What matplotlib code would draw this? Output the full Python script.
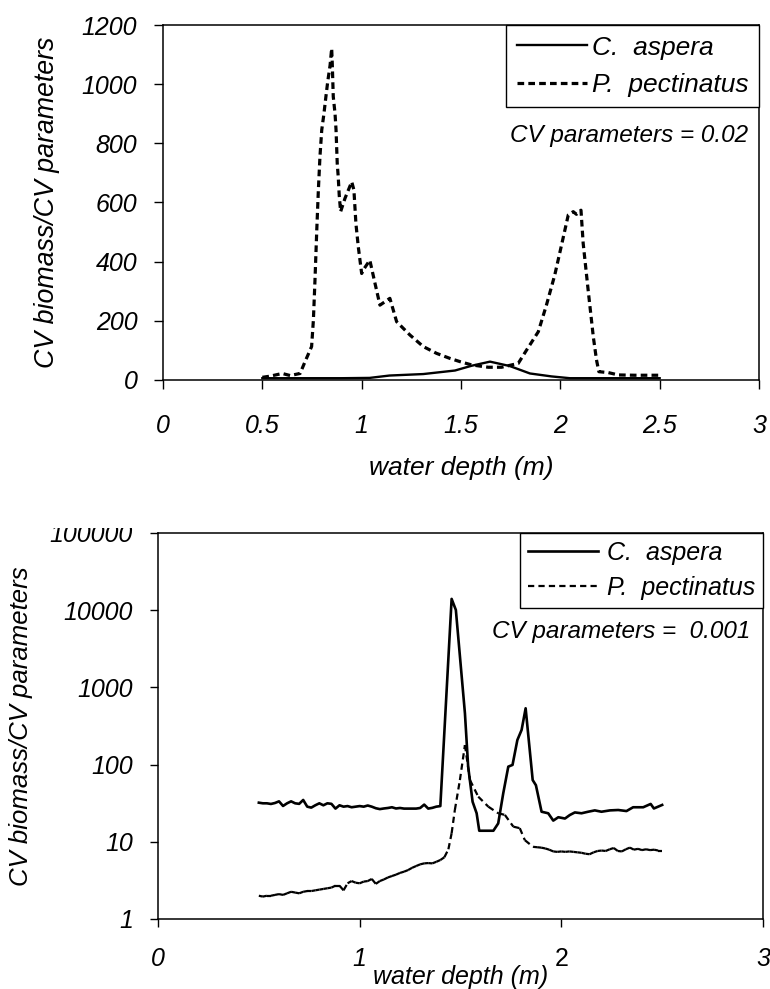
import numpy as np
import matplotlib
matplotlib.use('Agg')
import matplotlib.pyplot as plt
from matplotlib.collections import LineCollection
from matplotlib.transforms import Bbox

# top panel: CV parameters = 0.02 (linear y)
top_x_pect = [0.50, 0.54, 0.60, 0.64, 0.69, 0.715, 0.748, 0.757, 0.765, 0.774, 0.782, 0.790,
              0.799, 0.810, 0.820, 0.829, 0.841, 0.849, 0.852, 0.857, 0.866, 0.871, 0.877,
              0.882, 0.887, 0.894, 0.916, 0.950, 0.961, 0.971, 0.983, 1.000, 1.008, 1.041,
              1.067, 1.092, 1.142, 1.176, 1.243, 1.310, 1.377, 1.444, 1.495, 1.553, 1.637,
              1.704, 1.788, 1.830, 1.889, 1.930, 1.972, 2.006, 2.040, 2.065, 2.081, 2.104,
              2.115, 2.140, 2.166, 2.182, 2.194, 2.241, 2.292, 2.375, 2.50]
top_y_pect = [9, 13, 22, 15, 22, 62, 113, 203, 338, 507, 642, 755,
              845, 900, 958, 1008, 1064, 1121, 1070, 958, 900, 845, 732,
              687, 625, 569, 614, 670, 642, 529, 450, 360, 372, 405,
              327, 253, 276, 197, 152, 113, 90, 73, 62, 51, 43,
              43, 56, 101, 163, 253, 355, 456, 558, 569, 560, 574,
              462, 304, 146, 68, 28, 25, 17, 16, 16]

top_x_asp = [0.50, 0.70, 0.90, 1.04, 1.14, 1.31, 1.47, 1.553, 1.646, 1.746, 1.847, 1.956, 2.048, 2.50]
top_y_asp = [6, 6, 6, 7, 15, 20, 32, 48, 62, 47, 22, 12, 6, 6]

# bottom panel: CV parameters = 0.001 (log y)
bot_x_asp = [0.50, 0.52, 0.54, 0.56, 0.58, 0.60, 0.62, 0.64, 0.66, 0.68, 0.70, 0.72, 0.74,
             0.76, 0.78, 0.80, 0.82, 0.84, 0.86, 0.88, 0.90, 0.92, 0.94, 0.96, 0.98, 1.00,
             1.02, 1.04, 1.06, 1.08, 1.10, 1.12, 1.14, 1.16, 1.18, 1.20, 1.22, 1.24, 1.26,
             1.28, 1.30, 1.32, 1.34, 1.36, 1.38, 1.40, 1.456, 1.477, 1.522, 1.538, 1.560,
             1.580, 1.593, 1.663, 1.687, 1.712, 1.737, 1.758, 1.782, 1.803, 1.823, 1.858,
             1.874, 1.902, 1.935, 1.960, 1.985, 2.018, 2.042, 2.067, 2.100, 2.133, 2.166,
             2.199, 2.241, 2.282, 2.323, 2.356, 2.406, 2.443, 2.459, 2.50]
bot_y_asp = [32.1, 31.5, 31.5, 30.9, 31.8, 33.4, 29.1, 31.5, 33.4, 31.5, 31.0, 34.8, 28.5,
             27.7, 29.7, 31.5, 29.7, 31.5, 31.0, 26.9, 29.7, 28.5, 29.0, 28.0, 28.5, 29.0,
             28.5, 29.5, 28.5, 27.2, 26.5, 27.0, 27.4, 28.0, 27.0, 27.4, 26.9, 26.9, 26.9,
             26.9, 27.4, 30.3, 26.9, 27.5, 28.5, 29.0, 14000, 10060, 461, 94, 33,
             23.4, 13.9, 13.9, 17.3, 42.5, 94, 99, 208, 281, 536, 63,
             54, 24.5, 23.4, 18.8, 20.8, 20.0, 22.2, 24.0, 23.4, 24.5, 25.5,
             24.5, 25.5, 25.8, 25.0, 28.0, 28.0, 30.9, 27.0, 30.0]

bot_x_pect = [0.50, 0.52, 0.54, 0.56, 0.58, 0.60, 0.62, 0.64, 0.66, 0.68, 0.70, 0.72, 0.74,
              0.76, 0.78, 0.80, 0.82, 0.84, 0.86, 0.88, 0.90, 0.92, 0.94, 0.96, 0.98, 1.00,
              1.02, 1.04, 1.06, 1.08, 1.10, 1.12, 1.14, 1.16, 1.18, 1.20, 1.22, 1.24, 1.26,
              1.28, 1.30, 1.32, 1.34, 1.36, 1.38, 1.40, 1.42, 1.44, 1.456, 1.472, 1.497,
              1.522, 1.547, 1.588, 1.638, 1.687, 1.720, 1.762, 1.794, 1.819, 1.860, 1.88,
              1.90, 1.92, 1.94, 1.96, 1.98, 2.00, 2.02, 2.04, 2.06, 2.08, 2.10, 2.12, 2.14,
              2.16, 2.18, 2.20, 2.22, 2.24, 2.26, 2.28, 2.30, 2.32, 2.34, 2.36, 2.38, 2.40,
              2.42, 2.44, 2.46, 2.48, 2.50]
bot_y_pect = [2.0, 1.95, 2.0, 2.0, 2.05, 2.1, 2.05, 2.15, 2.25, 2.2, 2.15, 2.25, 2.3,
              2.3, 2.35, 2.4, 2.45, 2.5, 2.55, 2.7, 2.7, 2.35, 2.9, 3.1, 2.95, 2.9,
              3.05, 3.1, 3.3, 2.85, 3.1, 3.25, 3.45, 3.6, 3.75, 3.95, 4.1, 4.3, 4.6,
              4.85, 5.1, 5.25, 5.3, 5.25, 5.5, 5.8, 6.3, 8.0, 12.9, 25.8, 63,
              179, 63, 38.4, 28.5, 23.4, 22.3, 15.7, 15.0, 10.5, 8.6, 8.5,
              8.4, 8.2, 7.9, 7.5, 7.4, 7.5, 7.4, 7.5, 7.4, 7.3, 7.2, 7.0, 6.9,
              7.3, 7.6, 7.7, 7.6, 8.0, 8.3, 7.6, 7.5, 8.0, 8.4, 7.9, 8.1, 7.8,
              8.0, 7.8, 7.9, 7.7, 7.7]

top_xticks = [0, 0.5, 1, 1.5, 2, 2.5, 3]
top_xlabels = ['0', '0.5', '1', '1.5', '2', '2.5', '3']
top_yticks = [0, 200, 400, 600, 800, 1000, 1200]
bot_xticks = [0, 1, 2, 3]
bot_yticks = [1, 10, 100, 1000, 10000, 100000]

plt.rcParams['font.family'] = 'Liberation Sans'
plt.rcParams['font.style'] = 'italic'
plt.rcParams['lines.scale_dashes'] = False

fig = plt.figure(figsize=(7.7, 9.89), dpi=100)

# ---- top chart ----
ax1 = fig.add_axes([0.2117, 0.6158, 0.7740, 0.3589])
ax1.plot(top_x_asp, top_y_asp, color='black', lw=1.7, label='C.  aspera')
ax1.plot(top_x_pect, top_y_pect, color='black', lw=2.3, dashes=(4.8, 3.0),
         label='P.  pectinatus')
ax1.set_xlim(0, 3)
ax1.set_ylim(0, 1200)
ax1.set_xticks(top_xticks)
ax1.set_xticklabels(top_xlabels)
ax1.set_yticks(top_yticks)
ax1.tick_params(axis='both', direction='out', length=6.5, width=1.0, labelsize=18)
ax1.tick_params(axis='y', pad=12)
ax1.tick_params(axis='x', pad=18)
for s in ax1.spines.values():
    s.set_linewidth(1.1)
ax1.set_xlabel('water depth (m)', fontsize=19, labelpad=13)
ax1.set_ylabel('CV biomass/CV parameters', fontsize=19.3)
ax1.yaxis.set_label_coords(-0.173, 0.5)
leg1 = ax1.legend(loc='upper right', bbox_to_anchor=(1, 1), borderaxespad=0,
                  fancybox=False, edgecolor='black', framealpha=1, fontsize=19,
                  handlelength=2.65, handletextpad=0.19, borderpad=0.4, labelspacing=0.5)
leg1.get_frame().set_linewidth(1.0)
ax1.text(0.9815, 0.69, 'CV parameters = 0.02', transform=ax1.transAxes,
         ha='right', va='center', fontsize=17.5)

# ---- bottom chart ----
ax2 = fig.add_axes([0.2052, 0.0708, 0.7857, 0.3903])
ax2.set_yscale('log')
ax2.plot(bot_x_asp, bot_y_asp, color='black', lw=1.9, label='C.  aspera')
segs = [[(bot_x_pect[i], bot_y_pect[i]), (bot_x_pect[i + 1], bot_y_pect[i + 1])]
        for i in range(len(bot_x_pect) - 1)]
lc = LineCollection(segs, colors='black', linewidths=1.6, linestyles=[(0, (4.5, 3.0))],
                    label='P.  pectinatus')
ax2.add_collection(lc)
ax2.set_xlim(0, 3)
ax2.set_ylim(1, 100000)
ax2.set_xticks(bot_xticks)
ax2.set_xticklabels([str(t) for t in bot_xticks])
ax2.set_yticks(bot_yticks)
ax2.set_yticklabels([str(t) for t in bot_yticks])
ax2.minorticks_off()
ax2.tick_params(axis='both', direction='out', length=6, width=1.0, labelsize=18)
ax2.tick_params(axis='y', pad=12)
ax2.tick_params(axis='x', pad=14)
for s in ax2.spines.values():
    s.set_linewidth(1.1)
ax2.get_xticklabels()[2].set_fontstyle('normal')
ax2.set_xlabel('water depth (m)', fontsize=18, labelpad=-4)
ax2.set_ylabel('CV biomass/CV parameters', fontsize=18.5)
ax2.yaxis.set_label_coords(-0.207, 0.5)
leg2 = ax2.legend(loc='upper right', bbox_to_anchor=(1, 1), borderaxespad=0,
                  fancybox=False, edgecolor='black', framealpha=1, fontsize=18,
                  handlelength=2.8, handletextpad=0.35, borderpad=0.32, labelspacing=0.45)
leg2.get_frame().set_linewidth(1.0)
ax2.text(0.9785, 0.7435, 'CV parameters =  0.001', transform=ax2.transAxes,
         ha='right', va='center', fontsize=17.5)

# the top label of the log axis is cut off in the original
top_lab = ax2.get_yticklabels()[-1]
top_lab.set_clip_box(Bbox.from_extents(0, 0, 770, 989 - 528))
top_lab.set_clip_on(True)

fig.savefig('out.png', dpi=100)
